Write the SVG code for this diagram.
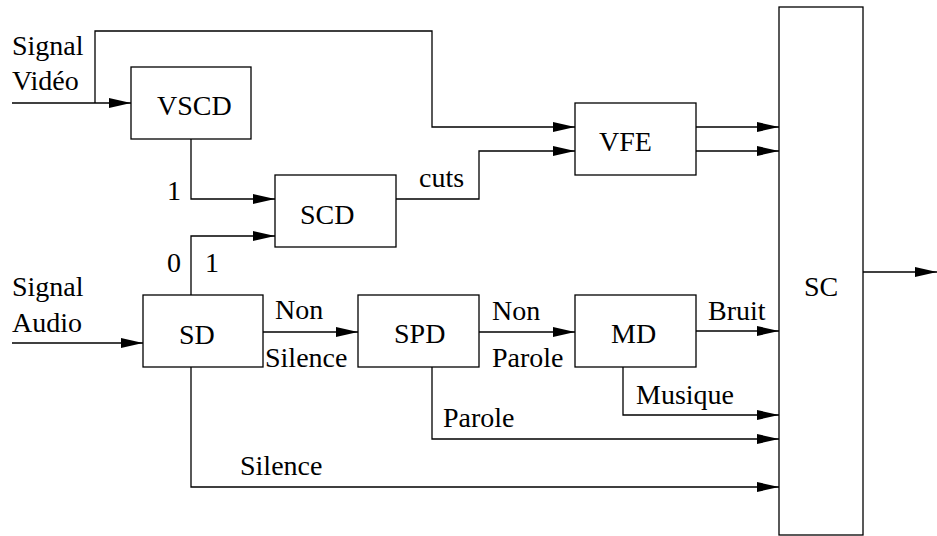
<svg xmlns="http://www.w3.org/2000/svg" width="937" height="536" viewBox="0 0 937 536">
  <style>
    .box { fill: #fff; stroke: #000; stroke-width: 1.3; }
    .wire { fill: none; stroke: #000; stroke-width: 1.3; marker-end: url(#arrow); }
    text { font-family: 'Liberation Serif', 'Times New Roman', serif; font-size: 28px; fill: #000; }
  </style>
  <defs>
    <marker id="arrow" markerUnits="userSpaceOnUse" markerWidth="22" markerHeight="10" refX="22" refY="5" orient="auto">
      <path d="M0,0 L22,5 L0,10 z" fill="#000"/>
    </marker>
  </defs>

  <rect width="937" height="536" fill="#fff"/>

  <!-- signal paths between blocks -->
  <g id="connectors">
    <path class="wire" d="M12,103 H131"/>
    <path class="wire" d="M95,103 V31 H432 V127 H575"/>
    <path class="wire" d="M191,139 V199 H275"/>
    <path class="wire" d="M191,295 V236 H275"/>
    <path class="wire" d="M396,199 H479 V151 H575"/>
    <path class="wire" d="M696,127 H779"/>
    <path class="wire" d="M696,151 H779"/>
    <path class="wire" d="M12,343 H143"/>
    <path class="wire" d="M263,332 H358"/>
    <path class="wire" d="M479,332 H575"/>
    <path class="wire" d="M696,331 H779"/>
    <path class="wire" d="M623,367 V415 H779"/>
    <path class="wire" d="M432,367 V439 H779"/>
    <path class="wire" d="M191,367 V487 H779"/>
    <path class="wire" d="M863,272 H937"/>

    <!-- path labels -->
    <text x="12" y="55">Signal</text>
    <text x="12" y="90">Vidéo</text>
    <text x="167" y="200">1</text>
    <text x="419" y="187">cuts</text>
    <text x="167" y="272">0</text>
    <text x="205" y="272">1</text>
    <text x="12" y="296">Signal</text>
    <text x="12" y="332">Audio</text>
    <text x="275" y="319">Non</text>
    <text x="265" y="367">Silence</text>
    <text x="492" y="320">Non</text>
    <text x="492" y="367">Parole</text>
    <text x="708" y="320">Bruit</text>
    <text x="636" y="404">Musique</text>
    <text x="443" y="427">Parole</text>
    <text x="240" y="475">Silence</text>
  </g>

  <!-- processing blocks -->
  <g id="VSCD">
    <rect class="box" x="131" y="67" width="120" height="72"/>
    <text x="157" y="115">VSCD</text>
  </g>
  <g id="SCD">
    <rect class="box" x="275" y="175" width="121" height="72"/>
    <text x="300" y="224">SCD</text>
  </g>
  <g id="VFE">
    <rect class="box" x="575" y="103" width="121" height="72"/>
    <text x="599" y="151">VFE</text>
  </g>
  <g id="SD">
    <rect class="box" x="143" y="295" width="120" height="72"/>
    <text x="179" y="344">SD</text>
  </g>
  <g id="SPD">
    <rect class="box" x="358" y="295" width="121" height="72"/>
    <text x="394" y="343">SPD</text>
  </g>
  <g id="MD">
    <rect class="box" x="575" y="295" width="121" height="72"/>
    <text x="611" y="343">MD</text>
  </g>
  <g id="SC">
    <rect class="box" x="779" y="7" width="84" height="528"/>
    <text x="804" y="296">SC</text>
  </g>
</svg>
